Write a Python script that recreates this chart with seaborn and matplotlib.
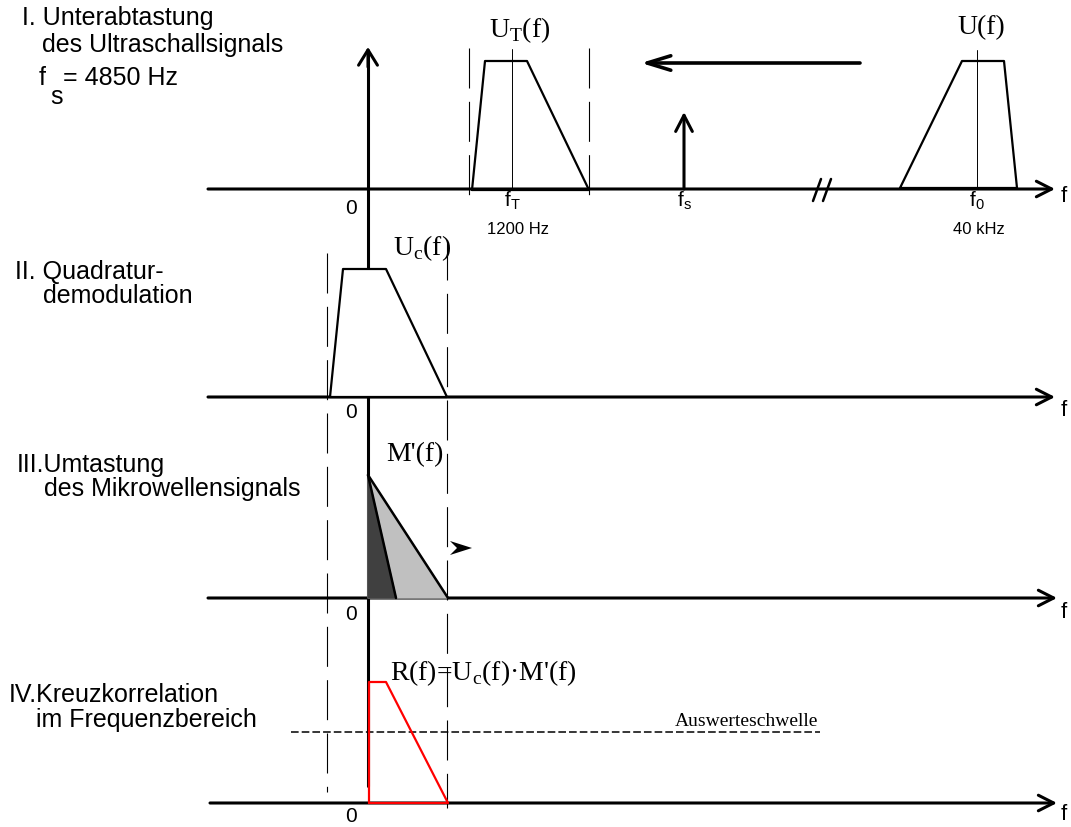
import matplotlib
matplotlib.use('Agg')
import matplotlib.pyplot as plt
import seaborn as sns

sns.set_theme(style='white')
plt.rcParams['font.family'] = ['Liberation Sans', 'DejaVu Sans']
plt.rcParams['text.color'] = 'black'
plt.rcParams['mathtext.fontset'] = 'custom'
plt.rcParams['mathtext.rm'] = 'Liberation Serif'
plt.rcParams['mathtext.sf'] = 'Liberation Sans'

# diagram drawn in pixel units (x to the right, y downwards)
W, H = 1071, 827
baseline_y = [189, 397, 598, 803]
axis_start_x = [208, 208, 208, 210]
axis_tip_x = [1055, 1055, 1057, 1057]
f_label_y = [197, 410, 612, 814]
zero_label_y = [208, 413, 615, 816]
zero_x = 368
v_axis_top, v_axis_bottom = 47, 786

# I. undersampling
ut_x = [472, 485, 527, 589, 472]
ut_y = [190, 61, 61, 190, 190]
u_x = [900, 962, 1004, 1017, 900]
u_y = [188, 61, 61, 188, 188]
carrier_x = [512, 977]
carrier_top = [49, 50]
carrier_bottom = [190, 188]
ut_window_x = [469, 589]
ut_window_y = [48, 203]
fs_x, fs_tip_y = 684, 112
shift_x = [860, 641]
shift_y = 63
break_x = [813, 823]

# II. quadrature demodulation
uc_x = [330, 343, 386, 447, 330]
uc_y = [397, 269, 269, 397, 397]
window_x = [327, 447]
window_top = [253, 240]
window_bottom = [792, 808]

# III. microwave keying
m_apex_y = 475
m_light_end = 448
m_dark_end = 396
shift_tip = (472, 548)

# IV. cross correlation
r_x = [369, 369, 386, 448, 369]
r_y = [803, 682, 682, 803, 803]
threshold_y = 732
threshold_x = [291, 820]

left_labels = [
    ("I. Unterabtastung", 22, 18),
    ("des Ultraschallsignals", 42, 45),
    ("II. Quadratur-", 15, 272),
    ("demodulation", 43, 296),
    ("III.Umtastung", 17, 465),
    ("des Mikrowellensignals", 44, 489),
    ("IV.Kreuzkorrelation", 9, 695),
    ("im Frequenzbereich", 36, 720),
]

fig = plt.figure(figsize=(W / 100, H / 100), dpi=100)
ax = fig.add_axes([0, 0, 1, 1])
ax.set_xlim(0, W)
ax.set_ylim(H, 0)
ax.axis('off')


def arrow(tail, tip, lw, hl, hw, z=3):
    ax.annotate('', xy=tip, xytext=tail,
                arrowprops=dict(arrowstyle=f'->,head_length={hl},head_width={hw}',
                                lw=lw, color='black', shrinkA=0, shrinkB=0,
                                mutation_scale=20), zorder=z)


# frequency axes
for x0, x1, y in zip(axis_start_x, axis_tip_x, baseline_y):
    arrow((x0, y), (x1, y), 2.2, 0.55, 0.28)

# common vertical axis
ax.plot([zero_x, zero_x], [v_axis_bottom, v_axis_top + 5], color='black', lw=2.2, zorder=2)
arrow((zero_x, v_axis_top + 20), (zero_x, v_axis_top), 2.2, 0.55, 0.34)

# dashed bandwidth markers
for x in ut_window_x:
    ax.plot([x, x], ut_window_y, color='black', lw=0.8, dashes=(36, 12), zorder=1)
for x, y0, y1 in zip(window_x, window_top, window_bottom):
    ax.plot([x, x], [y0, y1], color='black', lw=0.8, dashes=(36, 12), zorder=1)

# I. spectra
sns.lineplot(x=ut_x, y=ut_y, sort=False, estimator=None, color='black', lw=1.6, ax=ax, zorder=4)
sns.lineplot(x=u_x, y=u_y, sort=False, estimator=None, color='black', lw=1.6, ax=ax, zorder=4)
for x, y0, y1 in zip(carrier_x, carrier_top, carrier_bottom):
    ax.plot([x, x], [y0, y1], color='black', lw=0.7, zorder=5)
arrow((fs_x, baseline_y[0]), (fs_x, fs_tip_y), 2.2, 0.58, 0.3)
arrow((shift_x[0], shift_y), (shift_x[1], shift_y), 2.6, 0.85, 0.26)
for bx in break_x:
    ax.plot([bx, bx + 8], [201, 179], color='black', lw=1.8, zorder=4)

# II. demodulated spectrum (white filled, hides the axis)
ax.fill(uc_x, uc_y, color='white', zorder=3)
sns.lineplot(x=uc_x, y=uc_y, sort=False, estimator=None, color='black', lw=1.6, ax=ax, zorder=4)

# III. keyed microwave spectrum
y3 = baseline_y[2]
ax.fill([zero_x, zero_x, m_light_end], [y3, m_apex_y, y3], color='#c0c0c0', zorder=3)
ax.fill([zero_x, zero_x, m_dark_end], [y3, m_apex_y, y3], color='#404040', zorder=3)
ax.plot([zero_x, m_light_end], [m_apex_y, y3], color='black', lw=1.8, zorder=4)
ax.plot([zero_x, m_dark_end], [m_apex_y, y3], color='black', lw=1.8, zorder=4)
tx, ty = shift_tip
ax.fill([tx - 22, tx, tx - 22, tx - 15], [ty - 7, ty, ty + 7, ty], color='black', lw=0, zorder=4)

# IV. correlation result
ax.plot(threshold_x, [threshold_y, threshold_y], color='black', lw=1.1, dashes=(5, 2), zorder=3)
sns.lineplot(x=r_x, y=r_y, sort=False, estimator=None, color='#ff0000', lw=1.6, ax=ax, zorder=5)

# texts
for s, x, y in left_labels:
    ax.text(x, y, s, fontsize=18, ha='left', va='center')
ax.text(39, 78, "f", fontsize=18, ha='left', va='center')
ax.text(50, 97, "s", fontsize=18, ha='left', va='center')
ax.text(63, 78, "= 4850 Hz", fontsize=18, ha='left', va='center')

for y in zero_label_y:
    ax.text(351, y, "0", fontsize=15, ha='center', va='center')
for y in f_label_y:
    ax.text(1061, y, "f", fontsize=16, ha='left', va='center')

ax.text(512, 201, r"f$_\mathsf{T}$", fontsize=15, ha='center', va='center')
ax.text(684, 201, r"f$_\mathsf{s}$", fontsize=15, ha='center', va='center')
ax.text(977, 201, r"f$_\mathsf{0}$", fontsize=15, ha='center', va='center')
ax.text(518, 229, "1200 Hz", fontsize=12, ha='center', va='center')
ax.text(979, 229, "40 kHz", fontsize=12, ha='center', va='center')

serif = dict(family=['Liberation Serif', 'DejaVu Serif'], fontsize=20, va='center')
ax.text(520, 30, r"U$_\mathrm{T}$(f)", ha='center', **serif)
ax.text(981, 28, "U(f)", ha='center', **serif)
ax.text(422, 248, r"U$_\mathrm{c}$(f)", ha='center', **serif)
ax.text(415, 455, "M'(f)", ha='center', **serif)
ax.text(390, 673, r"R(f)=U$_\mathrm{c}$(f)·M'(f)", ha='left', **serif)
ax.text(818, 721, "Auswerteschwelle", family=['Liberation Serif', 'DejaVu Serif'],
        fontsize=14, ha='right', va='center')

fig.savefig('out.png', dpi=100)
